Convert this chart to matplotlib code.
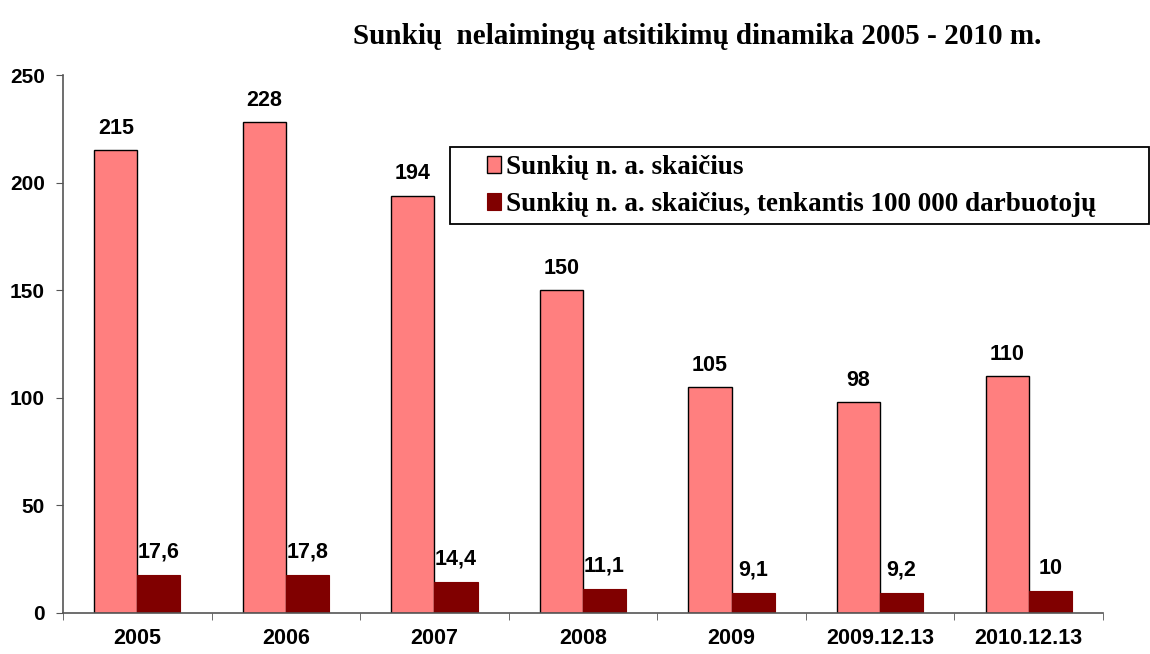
import numpy as np
import matplotlib.pyplot as plt
from matplotlib.patches import Rectangle
from matplotlib.ticker import FixedLocator, NullFormatter

categories = ["2005", "2006", "2007", "2008", "2009", "2009.12.13", "2010.12.13"]
severe_count = [215, 228, 194, 150, 105, 98, 110]
severe_per_100k = [17.6, 17.8, 14.4, 11.1, 9.1, 9.2, 10]
series_names = ["Sunkių n. a. skaičius",
                "Sunkių n. a. skaičius, tenkantis 100 000 darbuotojų"]
title = "Sunkių  nelaimingų atsitikimų dinamika 2005 - 2010 m."

if __name__ == "__main__":
    W, H = 1150, 654
    fig = plt.figure(figsize=(W / 100, H / 100), dpi=100)
    ax = fig.add_axes([0.0548, 0.0627, 0.9043, 0.8226])

    x = np.arange(len(categories))
    w = 0.29
    b1 = ax.bar(x - w / 2, severe_count, w, color="#FF7F7F", edgecolor="black", linewidth=1.0,
                label=series_names[0])
    b2 = ax.bar(x + w / 2, severe_per_100k, w, color="#800000", edgecolor="#800000", linewidth=0.8,
                label=series_names[1])

    lab_font = dict(family="Liberation Sans", weight="bold", size=15.5)
    for xi, v in zip(x, severe_count):
        ax.annotate(str(v), (xi - w / 2, v), xytext=(0, 8), textcoords="offset points",
                    ha="center", va="bottom", **lab_font)
    for xi, v in zip(x, severe_per_100k):
        ax.annotate(str(v).replace(".", ","), (xi + w / 2, v), xytext=(0, 9),
                    textcoords="offset points", ha="center", va="bottom", **lab_font)

    ax.set_xlim(-0.5, len(categories) - 0.5)
    ax.set_ylim(0, 250)
    ax.set_yticks([0, 50, 100, 150, 200, 250])
    ax.set_xticks(x)
    ax.set_xticklabels(categories)
    ax.xaxis.set_minor_locator(FixedLocator(np.arange(len(categories) + 1) - 0.5))
    ax.xaxis.set_minor_formatter(NullFormatter())
    ax.tick_params(axis="x", which="major", length=0, pad=11)
    ax.tick_params(axis="x", which="minor", length=5, color="#555555")
    ax.tick_params(axis="y", length=5, color="#555555", pad=8)
    for t in ax.get_xticklabels():
        t.set_fontfamily("Liberation Sans")
        t.set_fontweight("bold")
        t.set_fontsize(15.5)
    for t in ax.get_yticklabels():
        t.set_fontfamily("Liberation Sans")
        t.set_fontweight("bold")
        t.set_fontsize(15)

    for s in ["top", "right"]:
        ax.spines[s].set_visible(False)
    for s in ["left", "bottom"]:
        ax.spines[s].set_color("#555555")
        ax.spines[s].set_linewidth(1.2)

    fig.text(697 / W, 1 - 36 / H, title, ha="center", va="center",
             family="Liberation Serif", weight="bold", fontsize=21)

    # legend box, drawn separately so it can reach the right edge like the original
    fig.patches.append(Rectangle((450 / W, 1 - 224 / H), 699 / W, 77 / H,
                                 transform=fig.transFigure, facecolor="white",
                                 edgecolor="black", linewidth=1.3, zorder=3))
    leg = fig.legend(handles=[b1, b2], loc="upper left", bbox_to_anchor=(487 / W, 1 - 155 / H),
                     prop=dict(family="Liberation Serif", weight="bold", size=19.5),
                     frameon=False, handlelength=0.5, handleheight=0.55, handletextpad=0.2,
                     borderpad=0, labelspacing=0.45, borderaxespad=0)
    leg.set_zorder(4)

    fig.savefig("out.png", dpi=100)
    plt.close(fig)
